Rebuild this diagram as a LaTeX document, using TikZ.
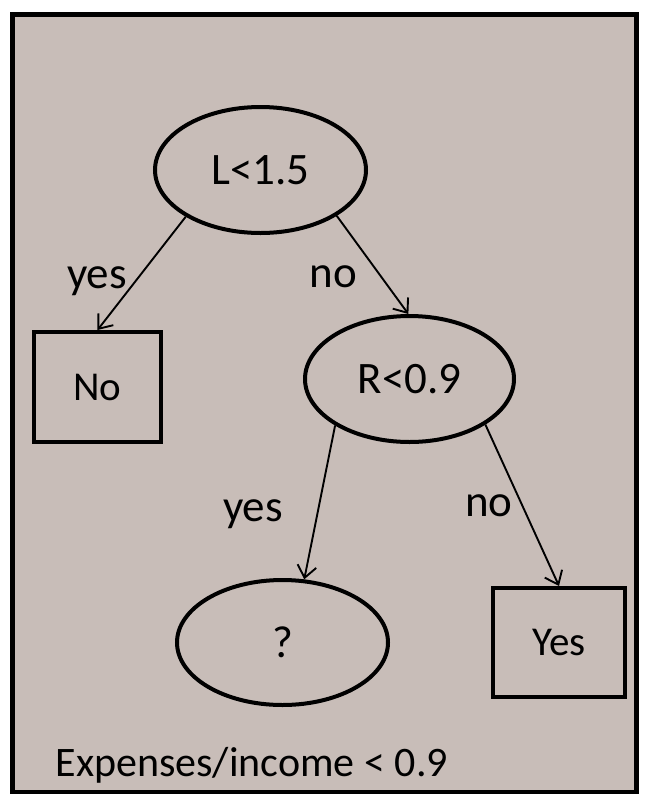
\documentclass[tikz,border=0pt]{standalone}
\usepackage{fontspec}
\setmainfont{Carlito}
\usetikzlibrary{shapes.geometric,arrows.meta}
\definecolor{bgc}{HTML}{C8BDB8}
\tikzset{
  decision/.style={ellipse,draw,line width=4pt,inner sep=0pt,font=\fontsize{45}{52}\selectfont},
  leaf/.style={rectangle,draw,line width=4pt,inner sep=0pt,font=\fontsize{41}{48}\selectfont},
  edge/.style={line width=1.9pt,-{Straight Barb[length=12pt,width=19pt,line width=1.9pt]}},
  elabel/.style={anchor=base,font=\fontsize{45}{52}\selectfont}
}
\begin{document}
\begin{tikzpicture}[x=1pt,y=-1pt]
\useasboundingbox (0,0) rectangle (645,801);
\draw[fill=bgc,line width=4.5pt] (12.5,14.5) rectangle (636.5,792);
\node[decision,minimum width=211pt,minimum height=126pt] (L) at (260.5,170) {L<1.5};
\node[leaf,minimum width=127pt,minimum height=110pt] (No) at (97.5,387) {No};
\node[decision,minimum width=209pt,minimum height=126pt] (R) at (409.5,379) {R<0.9};
\node[decision,minimum width=211pt,minimum height=125pt] (Q) at (282.5,642.5) {?};
\node[leaf,minimum width=132pt,minimum height=109pt] (Y) at (559,642.5) {Yes};
\draw[edge] (L.212) -- (No.north);
\draw[edge] (L.329) -- (R.91);
\draw[edge] (R.212) -- (Q.71);
\draw[edge] (R.329) -- (Y.north);
\node[elabel] (l1) at (97,288) {yes};
\node[elabel] (l2) at (333.5,287) {no};
\node[elabel] (l3) at (253,521) {yes};
\node[elabel] (l4) at (489,516) {no};
\node[anchor=base west,font=\fontsize{42}{50}\selectfont] (cap) at (52,776) {Expenses/income < 0.9};
\end{tikzpicture}
\end{document}
